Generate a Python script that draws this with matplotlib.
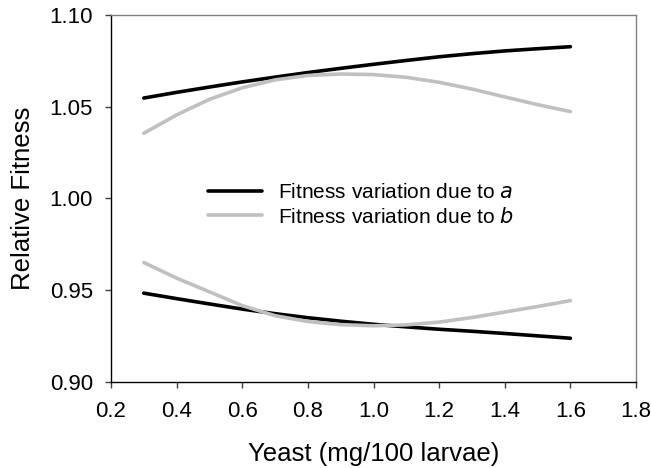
import matplotlib
matplotlib.use('Agg')
import matplotlib.pyplot as plt

plt.rcParams['font.family'] = ['Liberation Sans', 'DejaVu Sans']

yeast = [0.3, 0.4, 0.5, 0.6, 0.7, 0.8, 0.9, 1.0, 1.1, 1.2, 1.3, 1.4, 1.5, 1.6]

a_upper = [1.0547, 1.0578, 1.0607, 1.0635, 1.0661, 1.0686, 1.0709,
           1.0731, 1.0752, 1.0772, 1.0789, 1.0804, 1.0816, 1.0827]
a_lower = [0.9483, 0.9453, 0.9424, 0.9396, 0.9371, 0.9349, 0.9330,
           0.9313, 0.9299, 0.9286, 0.9275, 0.9263, 0.9250, 0.9237]
b_upper = [1.0355, 1.0455, 1.0540, 1.0603, 1.0646, 1.0670, 1.0678,
           1.0675, 1.0660, 1.0633, 1.0596, 1.0553, 1.0511, 1.0473]
b_lower = [0.9650, 0.9565, 0.9490, 0.9415, 0.9360, 0.9328, 0.9311,
           0.9305, 0.9310, 0.9325, 0.9350, 0.9380, 0.9410, 0.9442]

xticks = [0.2, 0.4, 0.6, 0.8, 1.0, 1.2, 1.4, 1.6, 1.8]
yticks = [0.90, 0.95, 1.00, 1.05, 1.10]

black = '#000000'
grey = '#c0c0c0'

fig = plt.figure(figsize=(6.51, 4.68), dpi=100)
ax = fig.add_axes([0.1705, 0.1844, 0.8065, 0.7836])

ax.plot(yeast, a_upper, color=black, lw=2.6, solid_capstyle='round', label='Fitness variation due to $\\it{a}$')
ax.plot(yeast, b_upper, color=grey, lw=2.6, solid_capstyle='round', label='Fitness variation due to $\\it{b}$')
ax.plot(yeast, a_lower, color=black, lw=2.6, solid_capstyle='round')
ax.plot(yeast, b_lower, color=grey, lw=2.6, solid_capstyle='round')

ax.set_xlim(0.2, 1.8)
ax.set_ylim(0.90, 1.10)
ax.set_xticks(xticks)
ax.set_yticks(yticks)
ax.set_xticklabels(['%.1f' % v for v in xticks])
ax.set_yticklabels(['%.2f' % v for v in yticks])
ax.tick_params(direction='out', length=4, width=1, color='#404040', labelsize=16)
ax.tick_params(axis='x', pad=10)
ax.tick_params(axis='y', pad=9)

for s in ['left', 'bottom']:
	ax.spines[s].set_color(black)
	ax.spines[s].set_linewidth(1)
for s in ['top', 'right']:
	ax.spines[s].set_color('#808080')
	ax.spines[s].set_linewidth(1)

ax.set_xlabel('Yeast (mg/100 larvae)', fontsize=18.5, va='center')
ax.set_ylabel('Relative Fitness', fontsize=18.5, va='center')
ax.xaxis.set_label_coords(0.5, -0.197)
ax.yaxis.set_label_coords(-0.168, 0.5)

ax.legend(loc='center left', bbox_to_anchor=(0.185, 0.482), frameon=False, fontsize=15,
          borderpad=0, borderaxespad=0, handlelength=2.6, handletextpad=0.75, labelspacing=0.2)

fig.savefig('out.png', dpi=100)
